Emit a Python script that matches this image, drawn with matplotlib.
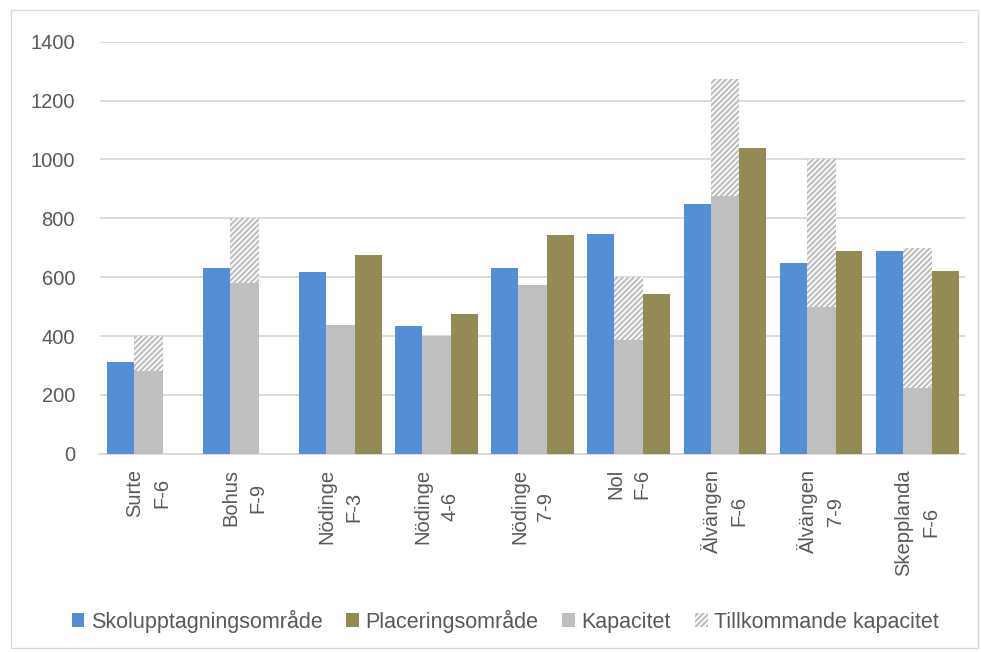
import matplotlib
matplotlib.use("Agg")
import matplotlib.pyplot as plt
from matplotlib.patches import Patch, Rectangle
import numpy as np

categories = ["Surte\nF-6", "Bohus\nF-9", "Nödinge\nF-3", "Nödinge\n4-6", "Nödinge\n7-9",
              "Nol\nF-6", "Älvängen\nF-6", "Älvängen\n7-9", "Skepplanda\nF-6"]
skolupptagning = [312, 632, 618, 435, 632, 748, 850, 648, 688]
placering = [0, 0, 676, 476, 745, 543, 1040, 690, 622]
kapacitet = [280, 580, 438, 400, 572, 388, 875, 500, 222]
tillkommande = [120, 220, 0, 0, 0, 212, 400, 500, 478]
yticks = [0, 200, 400, 600, 800, 1000, 1200, 1400]

c_blue = "#558ED5"
c_olive = "#948A54"
c_gray = "#BFBFBF"
txt = "#595959"

plt.rcParams["font.family"] = ["Liberation Sans", "DejaVu Sans"]
plt.rcParams["hatch.linewidth"] = 1.6

fig = plt.figure(figsize=(9.81, 6.52), dpi=100)
fig.patches.append(Rectangle((0.011, 0.006), 0.986, 0.978, transform=fig.transFigure,
                             fill=False, edgecolor="#D9D9D9", linewidth=1))
ax = fig.add_axes([0.102, 0.304, 0.882, 0.632])

x = np.arange(len(categories))
off = 0.29
ax.bar(x - off, skolupptagning, width=0.28, color=c_blue, zorder=3)
ax.bar(x, kapacitet, width=0.30, color=c_gray, zorder=3)
ax.bar(x, tillkommande, width=0.30, bottom=kapacitet, facecolor="white",
       edgecolor=c_gray, hatch="//////", linewidth=0, zorder=3)
ax.bar(x + off, placering, width=0.28, color=c_olive, zorder=3)

ax.set_xlim(-0.5, len(categories) - 0.5)
ax.set_ylim(0, 1400)
ax.set_yticks(yticks)
ax.set_yticklabels([str(v) for v in yticks], fontsize=14.5, color=txt)
ax.yaxis.grid(True, color="#D9D9D9", linewidth=1.3, zorder=0)
ax.set_axisbelow(True)
for s in ["top", "right", "left"]:
    ax.spines[s].set_visible(False)
ax.spines["bottom"].set_color("#D9D9D9")
ax.spines["bottom"].set_linewidth(1.3)
ax.tick_params(axis="y", length=0, pad=18)
ax.tick_params(axis="x", length=0, pad=11)
ax.set_xticks(x)
ax.set_xticklabels(categories, rotation=90, fontsize=14.5, color=txt,
                   multialignment="center", linespacing=1.5)

handles = [Patch(facecolor=c_blue), Patch(facecolor=c_olive), Patch(facecolor=c_gray),
           Patch(facecolor="white", edgecolor=c_gray, hatch="//////", linewidth=0)]
labels = ["Skolupptagningsområde", "Placeringsområde", "Kapacitet", "Tillkommande kapacitet"]
fig.legend(handles, labels, loc="center", bbox_to_anchor=(0.515, 0.047), ncol=4,
           frameon=False, fontsize=15.5, handlelength=0.6, handleheight=0.6,
           handletextpad=0.3, columnspacing=1.1, labelcolor=txt)

fig.savefig("out.png", dpi=100)
